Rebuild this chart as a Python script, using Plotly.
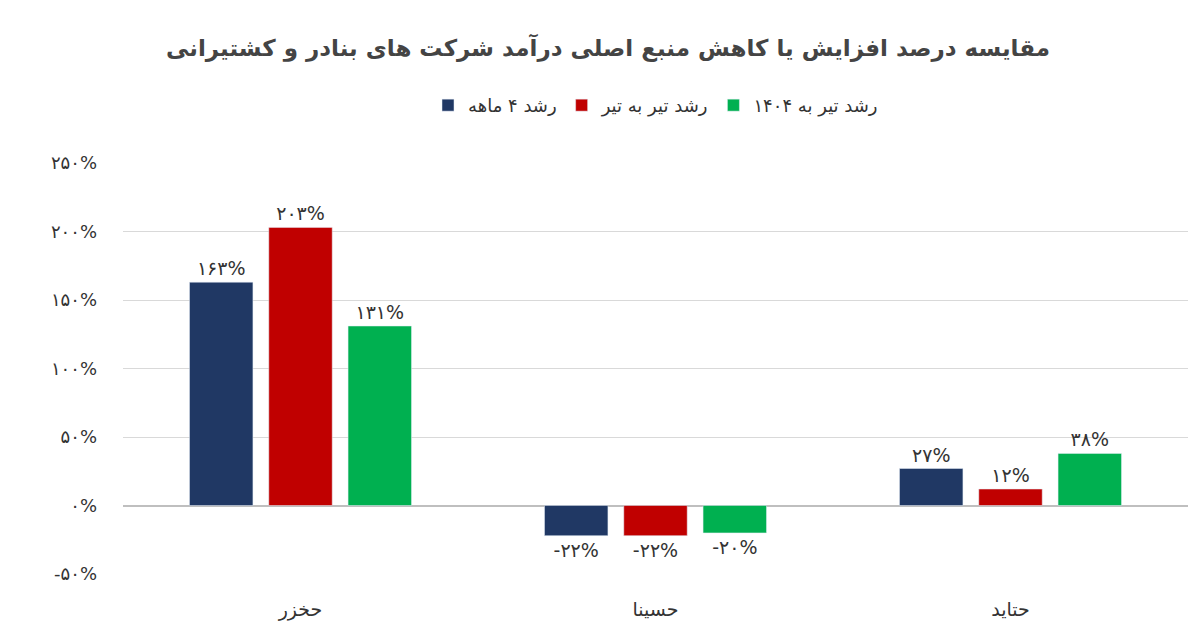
import plotly.graph_objects as go

categories = ["حخزر", "حسینا", "حتاید"]
series_names = ["رشد ۴ ماهه", "رشد تیر به تیر", "رشد تیر به ۱۴۰۴"]
growth_4m = [163, -22, 27]
growth_tir = [203, -22, 12]
growth_1404 = [131, -20, 38]
tick_vals = [-50, 0, 50, 100, 150, 200, 250]
colors = ["#203864", "#c00000", "#00b050"]

fa = str.maketrans("0123456789", "۰۱۲۳۴۵۶۷۸۹")

def fa_pct(v):
    return (("-" if v < 0 else "") + str(abs(v)).translate(fa) + "%")

fig = go.Figure()
for name, vals, c in zip(series_names, [growth_4m, growth_tir, growth_1404], colors):
    fig.add_trace(go.Bar(
        x=categories, y=vals, name=name, marker_color=c,
        text=[fa_pct(v) for v in vals], textposition="outside",
        textfont=dict(size=19, color="#333"), cliponaxis=False,
    ))

fig.update_layout(
    width=1200, height=640,
    paper_bgcolor="white", plot_bgcolor="white",
    font=dict(family="DejaVu Sans", color="#333"),
    title=dict(text="<b>مقایسه درصد افزایش یا کاهش منبع اصلی درآمد شرکت های بنادر و کشتیرانی</b>",
               x=0.5, y=1 - 40 / 640, yanchor="middle", xanchor="center",
               font=dict(size=23, color="#444")),
    legend=dict(orientation="h", x=0.5, xanchor="center", y=1.14, yanchor="middle",
                font=dict(size=18)),
    margin=dict(l=115, r=20, t=155, b=74),
    bargap=0.33, bargroupgap=0.2,
    xaxis=dict(tickfont=dict(size=19, color="#333"), showline=False,
               ticklabelstandoff=22),
    yaxis=dict(range=[-50, 250], tickvals=tick_vals,
               ticktext=[fa_pct(v) for v in tick_vals],
               tickfont=dict(size=18, color="#333"),
               gridcolor="#d9d9d9", zeroline=True, zerolinecolor="#bfbfbf",
               ticklabelstandoff=25),
)

fig.write_html("out.html")
